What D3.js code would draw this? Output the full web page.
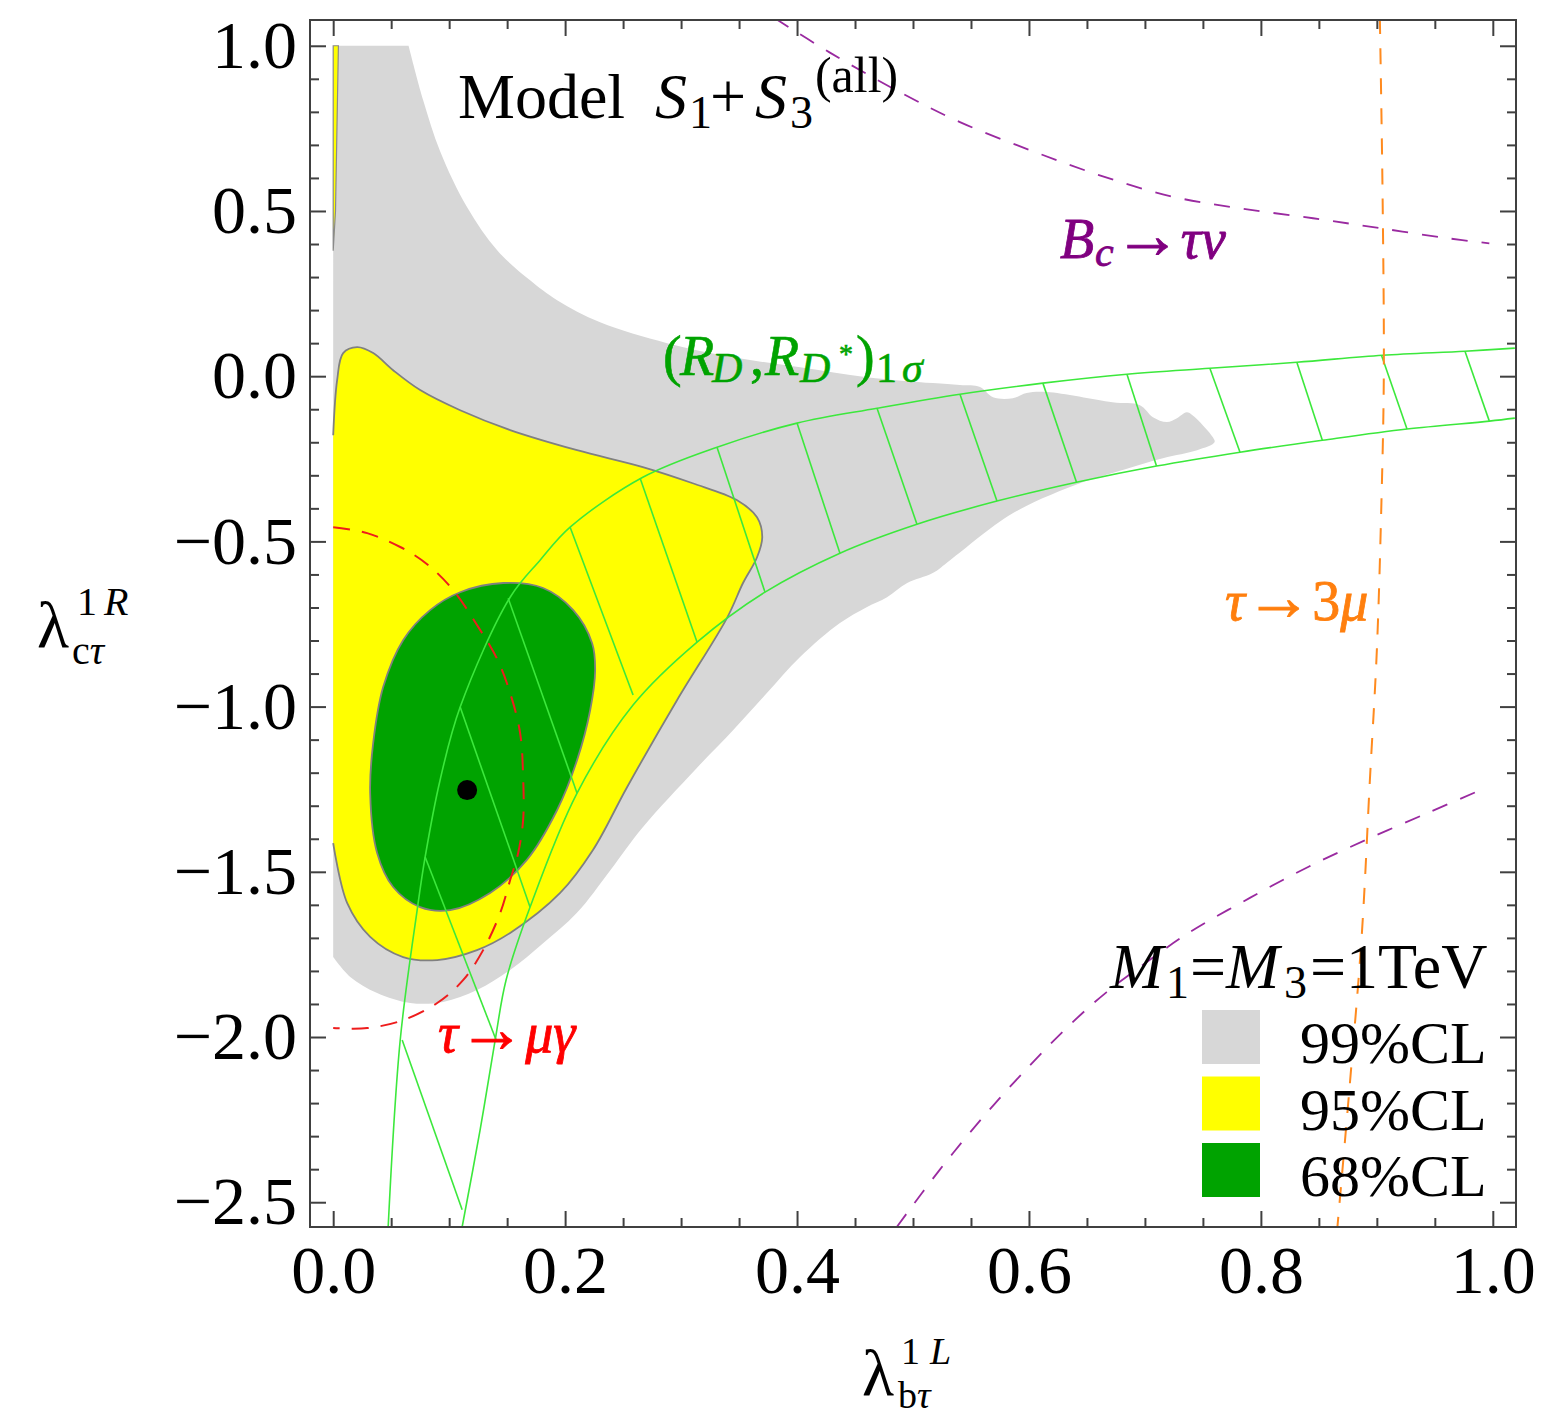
<!DOCTYPE html>
<html>
<head>
<meta charset="utf-8">
<script src="https://cdn.jsdelivr.net/npm/d3@7"></script>
<style>
  html, body { margin: 0; padding: 0; background: #fff; }
  svg { display: block; font-family: "Liberation Serif", "DejaVu Serif", serif; }
</style>
</head>
<body>
<svg id="chart" width="1542" height="1415"></svg>
<script>
// ---------------- DATA ----------------
const xTickValues = [0.0, 0.2, 0.4, 0.6, 0.8, 1.0];
const yTickValues = [-2.5, -2.0, -1.5, -1.0, -0.5, 0.0, 0.5, 1.0];
const xMinorStep = 0.05;
const yMinorStep = 0.1;

// 99% CL region (curved outline, closed along x = 0)
const cl99 = [
  [0.065, 1.0], [0.0776, 0.835], [0.0922, 0.681], [0.1155, 0.511], [0.1414, 0.381],
  [0.1698, 0.290], [0.1931, 0.230], [0.2302, 0.163], [0.2879, 0.100], [0.3448, 0.0575],
  [0.4026, 0.027], [0.4603, -0.003], [0.517, -0.021], [0.5405, -0.027], [0.5578, -0.033],
  [0.569, -0.064], [0.586, -0.067], [0.598, -0.051], [0.6155, -0.048], [0.672, -0.079],
  [0.6957, -0.088], [0.7069, -0.124], [0.719, -0.139], [0.7276, -0.127], [0.736, -0.109],
  [0.741, -0.118], [0.7586, -0.185], [0.760, -0.200], [0.745, -0.224], [0.7155, -0.248],
  [0.672, -0.293], [0.644, -0.324], [0.586, -0.415], [0.532, -0.557], [0.517, -0.596],
  [0.495, -0.626], [0.4776, -0.669], [0.460, -0.699], [0.437, -0.747], [0.4026, -0.850],
  [0.374, -0.959], [0.345, -1.071], [0.313, -1.188], [0.267, -1.365], [0.239, -1.495],
  [0.210, -1.625], [0.181, -1.716], [0.1526, -1.797], [0.124, -1.858], [0.0948, -1.894],
  [0.0664, -1.897], [0.0379, -1.867], [0.0147, -1.818], [0.0, -1.758]
];
const cl99Corner = [0.0, 1.0];

// 95% CL region (main lobe, closed along x = 0) and thin strip at the top
const cl95 = [
  [0.0, -0.179], [0.0034, -0.012], [0.0086, 0.070], [0.0207, 0.088], [0.0345, 0.070],
  [0.0517, 0.018], [0.075, -0.042], [0.1095, -0.103], [0.1526, -0.163], [0.2103, -0.224],
  [0.267, -0.275], [0.310, -0.324], [0.348, -0.375], [0.3655, -0.427], [0.370, -0.487],
  [0.3655, -0.548], [0.3534, -0.626], [0.340, -0.729], [0.2966, -0.980], [0.2534, -1.244],
  [0.224, -1.434], [0.1957, -1.564], [0.1526, -1.685], [0.124, -1.737], [0.0897, -1.767],
  [0.0603, -1.758], [0.0319, -1.697], [0.0121, -1.595], [0.0, -1.413]
];
const cl95Strip = [[0.0, 1.0], [0.0045, 1.0], [0.002, 0.5], [0.0, 0.38]];

// 68% CL region (closed)
const cl68 = [
  [0.1466, -0.626], [0.181, -0.641], [0.207, -0.708], [0.2233, -0.808], [0.2259, -0.890],
  [0.2216, -1.011], [0.2103, -1.162], [0.1931, -1.313], [0.167, -1.464], [0.1353, -1.564],
  [0.1009, -1.616], [0.075, -1.607], [0.0517, -1.546], [0.0379, -1.443], [0.0319, -1.262],
  [0.0345, -1.110], [0.0431, -0.941], [0.0603, -0.799], [0.0836, -0.708], [0.1095, -0.654]
];

const bestFit = [0.1155, -1.2527];

// (R_D, R_D*) 1 sigma band: two edges and hatch segments
const bandUpper = [
  [0.0474, -2.575], [0.0578, -2.009], [0.0724, -1.616], [0.0793, -1.455], [0.0922, -1.222],
  [0.1095, -1.0015], [0.1526, -0.669], [0.1784, -0.557], [0.2043, -0.457], [0.267, -0.306],
  [0.331, -0.215], [0.400, -0.142], [0.469, -0.097], [0.5405, -0.0545], [0.612, -0.021],
  [0.6845, 0.006], [0.756, 0.024], [0.831, 0.042], [0.905, 0.0635], [0.976, 0.0756],
  [1.019, 0.085]
];
const bandLower = [
  [0.1112, -2.575], [0.1267, -2.281], [0.1397, -2.009], [0.1491, -1.8275], [0.1698, -1.6067],
  [0.2103, -1.2617], [0.2586, -0.9955], [0.3138, -0.805], [0.3724, -0.6536], [0.437, -0.5356],
  [0.5034, -0.448], [0.5724, -0.378], [0.641, -0.321], [0.710, -0.272], [0.782, -0.230],
  [0.853, -0.194], [0.926, -0.160], [0.997, -0.136], [1.019, -0.127]
];
const bandHatch = [
  [[0.0595, -2.009], [0.1112, -2.523]],
  [[0.0793, -1.455], [0.1405, -2.009]],
  [[0.1095, -1.0015], [0.1698, -1.607]],
  [[0.1509, -0.672], [0.2103, -1.262]],
  [[0.2043, -0.457], [0.2586, -0.965]],
  [[0.2647, -0.309], [0.3138, -0.805]],
  [[0.331, -0.215], [0.3724, -0.654]],
  [[0.400, -0.142], [0.437, -0.536]],
  [[0.469, -0.097], [0.5034, -0.448]],
  [[0.5405, -0.0545], [0.5724, -0.378]],
  [[0.612, -0.021], [0.641, -0.321]],
  [[0.6845, 0.006], [0.710, -0.272]],
  [[0.756, 0.024], [0.782, -0.230]],
  [[0.831, 0.042], [0.853, -0.194]],
  [[0.904, 0.0635], [0.926, -0.160]],
  [[0.976, 0.0756], [0.997, -0.136]]
];

// constraint curves (dashed)
const tauMuGamma = [
  [0.0, -0.457], [0.0293, -0.475], [0.0578, -0.517], [0.081, -0.569], [0.1034, -0.647],
  [0.124, -0.753], [0.1414, -0.856], [0.1526, -0.959], [0.1612, -1.080], [0.1638, -1.213],
  [0.1638, -1.343], [0.1595, -1.443], [0.1526, -1.525], [0.144, -1.625], [0.1293, -1.737],
  [0.112, -1.828], [0.0897, -1.897], [0.0603, -1.949], [0.0293, -1.973], [0.0, -1.973]
];
const bcUpper = [
  [0.381, 1.083], [0.428, 0.980], [0.489, 0.859], [0.5405, 0.769], [0.601, 0.684],
  [0.661, 0.608], [0.7216, 0.545], [0.782, 0.508], [0.845, 0.478], [0.9026, 0.448],
  [0.960, 0.418], [0.997, 0.402]
];
const bcLower = [
  [0.486, -2.575], [0.523, -2.402], [0.562, -2.236], [0.601, -2.085], [0.635, -1.964],
  [0.667, -1.864], [0.704, -1.767], [0.739, -1.682], [0.7905, -1.579], [0.842, -1.483],
  [0.894, -1.398], [0.9457, -1.319], [0.989, -1.253]
];
const tau3Mu = [
  [0.9026, 1.083], [0.905, 0.533], [0.906, 0.0], [0.904, -0.375], [0.900, -0.829],
  [0.894, -1.222], [0.887, -1.691], [0.877, -2.130], [0.866, -2.575]
];

const legendLabels = ["99%CL", "95%CL", "68%CL"];
const legendColors = ["#d7d7d7", "#ffff00", "#00a300"];

// ---------------- LAYOUT ----------------
const svg = d3.select("#chart");
const L = 310, R = 1516, T = 20, B = 1227;
const x = d3.scaleLinear().domain([-0.02, 1.02]).range([L, R]);
const y = d3.scaleLinear().domain([-2.575, 1.078]).range([B, T]);

svg.append("defs").append("clipPath").attr("id", "plotclip")
  .append("rect").attr("x", L).attr("y", T).attr("width", R - L).attr("height", B - T);

const plot = svg.append("g").attr("clip-path", "url(#plotclip)");

const smooth = d3.line().x(d => x(d[0])).y(d => y(d[1])).curve(d3.curveCatmullRom.alpha(0.5));
const smoothClosed = d3.line().x(d => x(d[0])).y(d => y(d[1])).curve(d3.curveCatmullRomClosed.alpha(0.5));
const straight = d3.line().x(d => x(d[0])).y(d => y(d[1]));

// 99% CL
plot.append("path")
  .attr("d", smooth(cl99) + `L${x(cl99Corner[0])},${y(cl99Corner[1])}Z`)
  .attr("fill", legendColors[0]).attr("stroke", "none");

// 95% CL
plot.append("path")
  .attr("d", straight(cl95Strip) + "Z")
  .attr("fill", legendColors[1]).attr("stroke", "#8a8a8a").attr("stroke-width", 1.2);
plot.append("path")
  .attr("d", smooth(cl95) + "Z")
  .attr("fill", legendColors[1]).attr("stroke", "none");
plot.append("path")
  .attr("d", smooth(cl95))
  .attr("fill", "none").attr("stroke", "#808080").attr("stroke-width", 1.8);

// 68% CL
plot.append("path")
  .attr("d", smoothClosed(cl68))
  .attr("fill", legendColors[2]).attr("stroke", "#808080").attr("stroke-width", 1.8);

// band
const bandColor = "#3ce83c";
[bandUpper, bandLower].forEach(c => {
  plot.append("path").attr("d", smooth(c)).attr("fill", "none")
    .attr("stroke", bandColor).attr("stroke-width", 1.6);
});
plot.selectAll("line.hatch").data(bandHatch).join("line").attr("class", "hatch")
  .attr("x1", d => x(d[0][0])).attr("y1", d => y(d[0][1]))
  .attr("x2", d => x(d[1][0])).attr("y2", d => y(d[1][1]))
  .attr("stroke", bandColor).attr("stroke-width", 1.6);

// dashed constraints
plot.append("path").attr("d", smooth(tauMuGamma)).attr("fill", "none")
  .attr("stroke", "#ee1c1c").attr("stroke-width", 2).attr("stroke-dasharray", "17,12");
[bcUpper, bcLower].forEach(c => {
  plot.append("path").attr("d", smooth(c)).attr("fill", "none")
    .attr("stroke", "#9a2aa0").attr("stroke-width", 1.8).attr("stroke-dasharray", "16,14");
});
plot.append("path").attr("d", smooth(tau3Mu)).attr("fill", "none")
  .attr("stroke", "#ff8a1e").attr("stroke-width", 2).attr("stroke-dasharray", "16,14");

// best-fit point
plot.append("circle").attr("cx", x(bestFit[0])).attr("cy", y(bestFit[1])).attr("r", 10).attr("fill", "#000");

// ---------------- TEXT HELPERS ----------------
// parts: {t: text, i: italic, s: size scale, o: vertical offset (em, + = down), x: absolute x}
function rich(sel, px, py, parts, size, fill, anchor, strokeW) {
  const t = sel.append("text").attr("x", px).attr("y", py)
    .attr("font-size", size).attr("fill", fill).attr("text-anchor", anchor || "start");
  if (strokeW) t.attr("stroke", fill).attr("stroke-width", strokeW);
  let cur = 0;
  parts.forEach(p => {
    const off = (p.o || 0) * size;
    const ts = t.append("tspan").attr("dy", off - cur)
      .attr("font-size", (p.s || 1) * size)
      .attr("font-style", p.i ? "italic" : "normal")
      .text(p.t);
    if (p.x !== undefined) ts.attr("x", p.x);
    cur = off;
  });
  return t;
}

// in-plot labels
rich(svg, 458, 118, [
  {t: "Model"}, {t: "S", i: 1, x: 655}, {t: "1", s: 0.72, o: 0.15, x: 689}, {t: "+", x: 710},
  {t: "S", i: 1, x: 755}, {t: "3", s: 0.72, o: 0.15, x: 790}, {t: "(all)", s: 0.78, o: -0.4, x: 815}
], 64, "#000");

rich(svg, 663, 375, [
  {t: "("}, {t: "R", i: 1, x: 680}, {t: "D", i: 1, s: 0.75, o: 0.13, x: 712}, {t: ",", x: 750},
  {t: "R", i: 1, x: 765}, {t: "D", i: 1, s: 0.75, o: 0.13, x: 800}, {t: "*", s: 0.5, o: -0.22, x: 839},
  {t: ")", x: 856}, {t: "1", s: 0.75, o: 0.13, x: 876}, {t: "σ", i: 1, s: 0.75, o: 0.13, x: 902}
], 56, "#00a300", "start", 0.6);

rich(svg, 1060, 258, [
  {t: "B", i: 1}, {t: "c", i: 1, s: 0.75, o: 0.14, x: 1095}, {t: "→", s: 1.2}, {t: "τ", i: 1}, {t: "ν", i: 1}
], 56, "#800080", "start", 0.8);

rich(svg, 1225, 620, [
  {t: "τ", i: 1}, {t: "→", s: 1.2}, {t: "3"}, {t: "μ", i: 1}
], 56, "#ff7f0e", "start", 0.8);

rich(svg, 438, 1052, [
  {t: "τ", i: 1}, {t: "→", s: 1.2}, {t: "μ", i: 1}, {t: "γ", i: 1}
], 56, "#ff0000", "start", 0.8);

// legend
rich(svg, 1110, 988, [
  {t: "M", i: 1}, {t: "1", s: 0.72, o: 0.15, x: 1166}, {t: "=", x: 1190}, {t: "M", i: 1, x: 1226},
  {t: "3", s: 0.72, o: 0.15, x: 1284}, {t: "=1TeV", x: 1310}
], 64, "#000");

const leg = svg.append("g");
legendLabels.forEach((lab, i) => {
  const top = 1010 + i * 66.5;
  leg.append("rect").attr("x", 1202).attr("y", top).attr("width", 58).attr("height", 54)
    .attr("fill", legendColors[i]);
  leg.append("text").attr("x", 1300).attr("y", top + 53).attr("font-size", 60).attr("fill", "#000").text(lab);
});

// ---------------- AXES ----------------
const frameColor = "#404040";
const xMinor = d3.range(0, 21).map(i => +(i * xMinorStep).toFixed(2)).filter(v => !xTickValues.some(t => Math.abs(t - v) < 1e-9));
const yMinor = d3.range(-25, 11).map(i => +(i * yMinorStep).toFixed(2)).filter(v => !yTickValues.some(t => Math.abs(t - v) < 1e-9));
const fmt = d3.format(".1f");

function styleAxis(g) {
  g.select(".domain").remove();
  g.selectAll(".tick line").attr("stroke", frameColor).attr("stroke-width", 2);
  g.selectAll(".tick text").attr("font-size", 68).attr("fill", "#000")
    .attr("font-family", "'Liberation Serif', 'DejaVu Serif', serif");
}

// bottom
svg.append("g").attr("transform", `translate(0,${B})`)
  .call(d3.axisBottom(x).tickValues(xMinor).tickSize(-9).tickFormat("")).call(styleAxis);
svg.append("g").attr("transform", `translate(0,${B})`)
  .call(d3.axisBottom(x).tickValues(xTickValues).tickSize(-16).tickPadding(18).tickFormat(fmt)).call(styleAxis);
// top
svg.append("g").attr("transform", `translate(0,${T})`)
  .call(d3.axisTop(x).tickValues(xMinor).tickSize(-9).tickFormat("")).call(styleAxis);
svg.append("g").attr("transform", `translate(0,${T})`)
  .call(d3.axisTop(x).tickValues(xTickValues).tickSize(-16).tickFormat("")).call(styleAxis);
// left
svg.append("g").attr("transform", `translate(${L},0)`)
  .call(d3.axisLeft(y).tickValues(yMinor).tickSize(-9).tickFormat("")).call(styleAxis);
svg.append("g").attr("transform", `translate(${L},0)`)
  .call(d3.axisLeft(y).tickValues(yTickValues).tickSize(-16).tickPadding(13).tickFormat(fmt)).call(styleAxis);
// right
svg.append("g").attr("transform", `translate(${R},0)`)
  .call(d3.axisRight(y).tickValues(yMinor).tickSize(-9).tickFormat("")).call(styleAxis);
svg.append("g").attr("transform", `translate(${R},0)`)
  .call(d3.axisRight(y).tickValues(yTickValues).tickSize(-16).tickFormat("")).call(styleAxis);

// frame
svg.append("rect").attr("x", L).attr("y", T).attr("width", R - L).attr("height", B - T)
  .attr("fill", "none").attr("stroke", frameColor).attr("stroke-width", 2);

// axis titles
svg.append("text").attr("x", 37).attr("y", 647).attr("font-size", 66).text("λ");
rich(svg, 77, 615, [{t: "1"}, {t: "R", i: 1, x: 104}], 40, "#000");
rich(svg, 72, 664, [{t: "c"}, {t: "τ", i: 1}], 40, "#000");

svg.append("text").attr("x", 862).attr("y", 1395).attr("font-size", 66).text("λ");
rich(svg, 901, 1364, [{t: "1"}, {t: "L", i: 1, x: 930}], 38, "#000");
rich(svg, 898, 1408, [{t: "b"}, {t: "τ", i: 1}], 38, "#000");
</script>
</body>
</html>
